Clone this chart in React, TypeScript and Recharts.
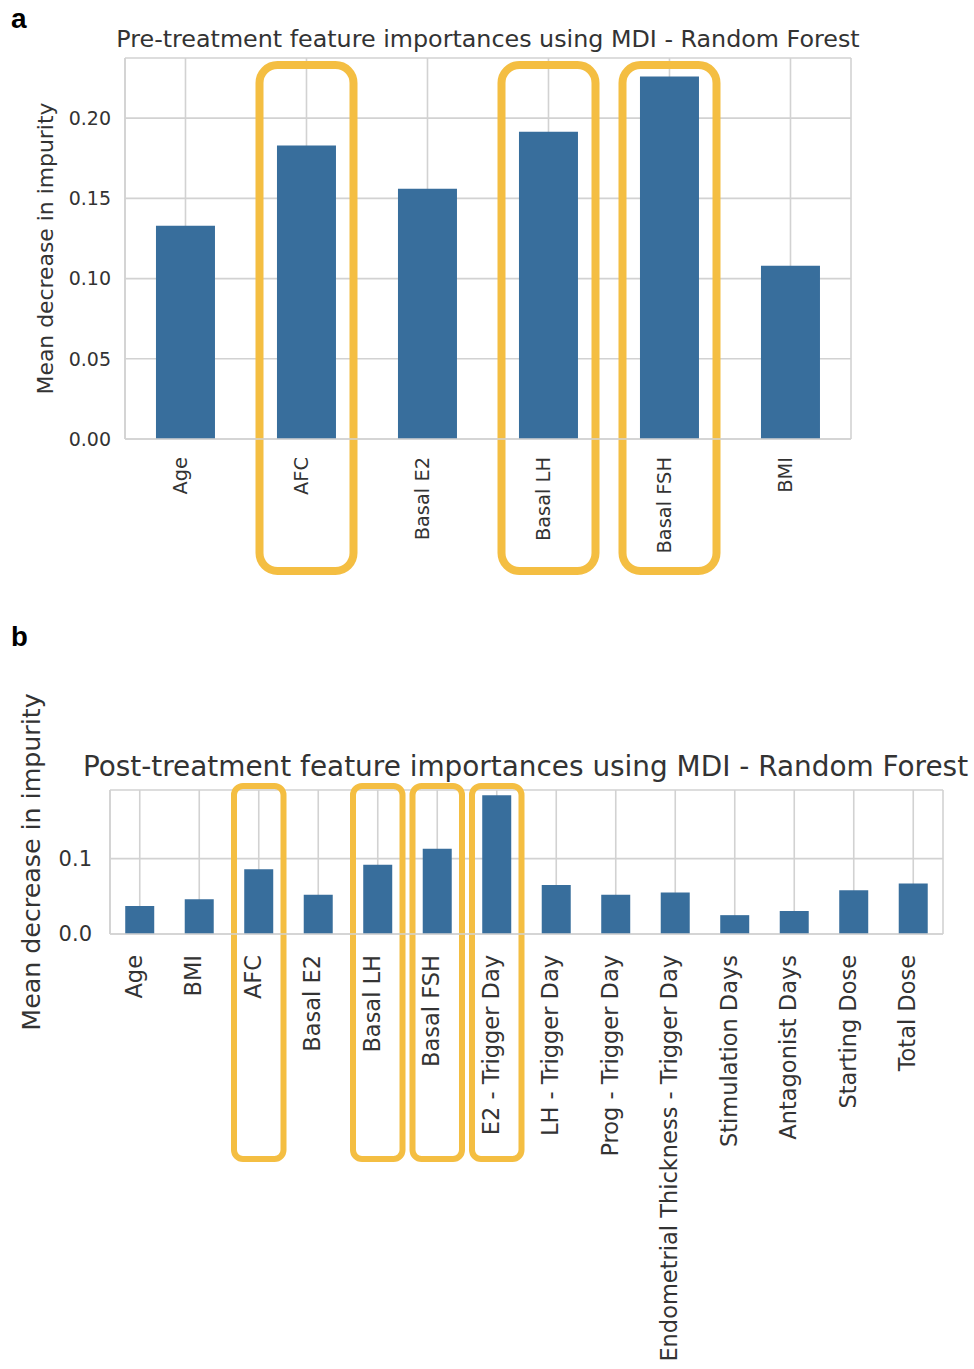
import React from 'react';
import { BarChart, Bar, XAxis, YAxis, CartesianGrid, ReferenceArea, Label } from 'recharts';

// ---------- Data ----------
const preFeatures = ['Age', 'AFC', 'Basal E2', 'Basal LH', 'Basal FSH', 'BMI'];
const preValues = [0.133, 0.183, 0.156, 0.1915, 0.226, 0.108];
const preTicks = [0, 0.05, 0.1, 0.15, 0.2];
const preHighlighted = ['AFC', 'Basal LH', 'Basal FSH'];
const preTitle = 'Pre-treatment feature importances using MDI - Random Forest';

const postFeatures = [
  'Age',
  'BMI',
  'AFC',
  'Basal E2',
  'Basal LH',
  'Basal FSH',
  'E2 - Trigger Day',
  'LH - Trigger Day',
  'Prog - Trigger Day',
  'Endometrial Thickness - Trigger Day',
  'Stimulation Days',
  'Antagonist Days',
  'Starting Dose',
  'Total Dose',
];
const postValues = [0.037, 0.046, 0.086, 0.052, 0.092, 0.113, 0.184, 0.065, 0.052, 0.055, 0.025, 0.0305, 0.058, 0.067];
const postTicks = [0, 0.1];
const postHighlighted = ['AFC', 'Basal LH', 'Basal FSH', 'E2 - Trigger Day'];
const postTitle = 'Post-treatment feature importances using MDI - Random Forest';

const yLabel = 'Mean decrease in impurity';

const preData = preFeatures.map((name, i) => ({ name, value: preValues[i] }));
const postData = postFeatures.map((name, i) => ({ name, value: postValues[i] }));

// ---------- Styles ----------
const FONT = '"DejaVu Sans", sans-serif';
const BAR = '#386e9c';
const GRID = '#d2d2d2';
const TEXT = '#333333';
const HIGHLIGHT = '#F4BE42';

function makeTick(fontSize: number) {
  return (props: any) => {
    const { x, y, payload } = props;
    return (
      <text
        x={x}
        y={y}
        dy={fontSize * 0.08}
        transform={`rotate(-90, ${x}, ${y})`}
        textAnchor="end"
        fontSize={fontSize}
        fontFamily={FONT}
        fill={TEXT}
      >
        {payload.value}
      </text>
    );
  };
}

function makeBox(inset: number, above: number, below: number, radius: number, sw: number) {
  return (props: any) => {
    const { x, y, width, height } = props;
    return (
      <rect
        x={x + inset}
        y={y - above}
        width={width - 2 * inset}
        height={height + above + below}
        rx={radius}
        ry={radius}
        fill="none"
        stroke={HIGHLIGHT}
        strokeWidth={sw}
      />
    );
  };
}

const preBox = makeBox(13.5, -7, 132, 18, 8);
const postBox = makeBox(5, 4, 225, 9, 6);

export default function App() {
  return (
    <div style={{ position: 'absolute', left: 0, top: 0, width: 974, height: 1369, background: '#fff' }}>
      {/* Panel a */}
      <div style={{ position: 'absolute', left: 0, top: 0 }}>
        <BarChart
          width={974}
          height={600}
          data={preData}
          margin={{ top: 58, right: 123, left: 0, bottom: 0 }}
          barCategoryGap="25.6%"
        >
          <CartesianGrid stroke={GRID} strokeWidth={1.6} />
          <XAxis
            dataKey="name"
            height={161}
            interval={0}
            tickLine={false}
            tickSize={0}
            tickMargin={18}
            axisLine={{ stroke: GRID, strokeWidth: 1.6 }}
            tick={makeTick(19.4)}
          />
          <XAxis xAxisId="top" orientation="top" dataKey="name" height={0} tick={false} tickLine={false} axisLine={{ stroke: GRID, strokeWidth: 1.6 }} />
          <YAxis
            width={125}
            domain={[0, 0.2375]}
            ticks={preTicks}
            tickFormatter={(v: number) => v.toFixed(2)}
            tickLine={false}
            tickSize={0}
            tickMargin={14}
            axisLine={{ stroke: GRID, strokeWidth: 1.6 }}
            tick={{ fontSize: 19, fill: TEXT, fontFamily: FONT }}
          >
            <Label
              value={yLabel}
              angle={-90}
              position="insideLeft"
              offset={45}
              style={{ textAnchor: 'middle', fontSize: 21.9, fill: TEXT, fontFamily: FONT }}
            />
          </YAxis>
          <YAxis yAxisId="right" orientation="right" width={0} domain={[0, 0.2375]} tick={false} tickLine={false} axisLine={{ stroke: GRID, strokeWidth: 1.6 }} />
          <Bar dataKey="value" fill={BAR} isAnimationActive={false} />
          {preHighlighted.map((n) => (
            <ReferenceArea key={n} x1={n} x2={n} ifOverflow="visible" shape={preBox} />
          ))}
        </BarChart>
      </div>

      {/* Panel b */}
      <div style={{ position: 'absolute', left: 0, top: 620 }}>
        <BarChart
          width={974}
          height={749}
          data={postData}
          margin={{ top: 170, right: 31, left: 0, bottom: 0 }}
          barCategoryGap="25.6%"
        >
          <CartesianGrid stroke={GRID} strokeWidth={1.6} />
          <XAxis
            dataKey="name"
            height={435}
            interval={0}
            tickLine={false}
            tickSize={0}
            tickMargin={21}
            axisLine={{ stroke: GRID, strokeWidth: 1.6 }}
            tick={makeTick(22.5)}
          />
          <XAxis xAxisId="top" orientation="top" dataKey="name" height={0} tick={false} tickLine={false} axisLine={{ stroke: GRID, strokeWidth: 1.6 }} />
          <YAxis
            width={110}
            domain={[0, 0.191]}
            ticks={postTicks}
            tickFormatter={(v: number) => v.toFixed(1)}
            tickLine={false}
            tickSize={0}
            tickMargin={18}
            axisLine={{ stroke: GRID, strokeWidth: 1.6 }}
            tick={{ fontSize: 21, fill: TEXT, fontFamily: FONT }}
          >
            <Label
              value={yLabel}
              angle={-90}
              position="insideLeft"
              offset={31.5}
              style={{ textAnchor: 'middle', fontSize: 25.3, fill: TEXT, fontFamily: FONT }}
            />
          </YAxis>
          <YAxis yAxisId="right" orientation="right" width={0} domain={[0, 0.191]} tick={false} tickLine={false} axisLine={{ stroke: GRID, strokeWidth: 1.6 }} />
          <Bar dataKey="value" fill={BAR} isAnimationActive={false} />
          {postHighlighted.map((n) => (
            <ReferenceArea key={n} x1={n} x2={n} ifOverflow="visible" shape={postBox} />
          ))}
        </BarChart>
      </div>

      {/* Titles and panel letters */}
      <svg width={974} height={1369} style={{ position: 'absolute', left: 0, top: 0, pointerEvents: 'none' }}>
        <text x={11} y={28} fontSize={28} fontWeight="bold" fontFamily='"Liberation Sans", Arial, sans-serif' fill="#000">a</text>
        <text x={488} y={46.5} fontSize={23.8} textAnchor="middle" fontFamily={FONT} fill={TEXT}>{preTitle}</text>
        <text x={11} y={646} fontSize={27.5} fontWeight="bold" fontFamily='"Liberation Sans", Arial, sans-serif' fill="#000">b</text>
        <text x={525.5} y={776} fontSize={27.9} textAnchor="middle" fontFamily={FONT} fill={TEXT}>{postTitle}</text>
      </svg>
    </div>
  );
}
